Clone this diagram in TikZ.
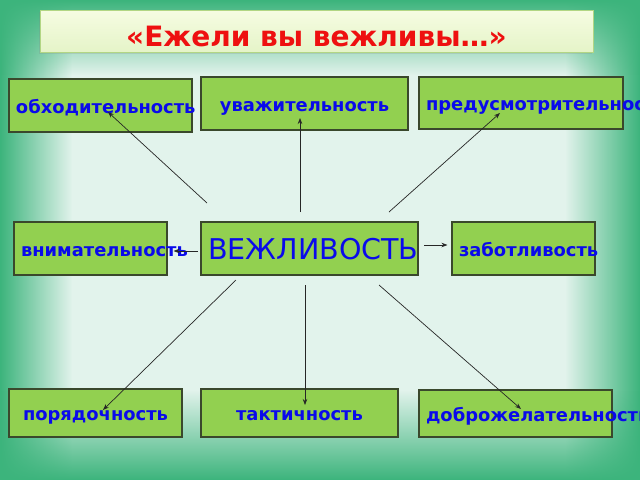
\documentclass[tikz,border=0pt]{standalone}
\usepackage{fontspec}
\setmainfont{DejaVu Sans}
\usetikzlibrary{positioning, fadings, shadows, arrows.meta}
\definecolor{edgegreen}{RGB}{60,180,124}
\definecolor{mint}{RGB}{226,243,236}
\definecolor{boxgreen}{RGB}{146,208,80}
\definecolor{boxedge}{RGB}{58,72,44}
\definecolor{wordblue}{RGB}{10,10,235}
\definecolor{titletop}{RGB}{246,252,226}
\definecolor{titlebottom}{RGB}{229,244,200}
\definecolor{titleedge}{RGB}{178,214,132}
\definecolor{titlered}{RGB}{238,16,16}
\tikzfading[name=glowleft, left color=transparent!0, middle color=transparent!55, right color=transparent!100]
\tikzfading[name=glowright, left color=transparent!100, middle color=transparent!55, right color=transparent!0]
\tikzfading[name=glowtop, top color=transparent!0, middle color=transparent!55, bottom color=transparent!100]
\tikzfading[name=glowbottom, top color=transparent!100, middle color=transparent!40, bottom color=transparent!0]
\newcommand{\wordfont}{\fontsize{17.9}{20}\selectfont\bfseries}
\newcommand{\titlefont}{\fontsize{28}{32}\selectfont\bfseries}

\begin{document}
\begin{tikzpicture}[x=1pt, y=-1pt, >={Stealth[length=6pt,width=4.5pt]},
    box/.style={draw=boxedge, fill=boxgreen, line width=1.1pt, inner sep=0pt,
      inner xsep=7pt, minimum height=53pt, text width=#1, align=left,
      text height=15pt, text depth=0pt, text=wordblue, font=\wordfont},
    titlebox/.style={draw=titleedge, line width=1pt, top color=titletop,
      bottom color=titlebottom, text=titlered, font=\titlefont, inner sep=0pt,
      text height=30pt, text depth=0pt,
      drop shadow={shadow xshift=-1pt, shadow yshift=-2pt, opacity=0.2}},
    link/.style={->, line width=0.7pt, black!85}]
  % Background
  \useasboundingbox (0,0) rectangle (640,480);
  \fill[mint] (0,0) rectangle (640,480);
  \fill[edgegreen, path fading=glowleft] (0,0) rectangle (72,480);
  \fill[edgegreen, path fading=glowright] (565,0) rectangle (640,480);
  \fill[edgegreen, path fading=glowtop] (0,0) rectangle (640,75);
  \fill[edgegreen, path fading=glowbottom] (0,390) rectangle (640,480);
  % Title
  \node[titlebox, minimum width=553pt, minimum height=42pt] (title) at (316.5,31) {«Ежели вы вежливы…»};
  % Top row
  \node[box=169pt] (obh) at (100.5,105.5) {обходительность};
  \node[box=193pt, align=center] (uvazh) at (304.5,103.5) {уважительность};
  \node[box=190pt, minimum height=52pt] (pred) at (521,103) {предусмотрительность};
  % Middle row
  \node[box=139pt] (vnim) at (90.5,248.5) {внимательность};
  \node[box=203pt, font=\fontsize{28.6}{32}\selectfont, text height=21pt] (vezh) at (309.5,248.5) {ВЕЖЛИВОСТЬ};
  \node[box=129pt] (zab) at (523.5,248.5) {заботливость};
  % Bottom row
  \node[box=159pt, align=center, minimum height=48pt] (por) at (95.5,413) {порядочность};
  \node[box=183pt, align=center, minimum height=48pt] (takt) at (299.5,413) {тактичность};
  \node[box=179pt, minimum height=47pt] (dobr) at (515.5,413.5) {доброжелательность};
  % Arrow starts
  \coordinate (up-l) at (207,203);
  \coordinate (up-c) at (300,212);
  \coordinate (up-r) at (389,212);
  \coordinate (mid-l) at (198,251);
  \coordinate (mid-r) at (424,245);
  \coordinate (down-l) at (236,280);
  \coordinate (down-c) at (305,285);
  \coordinate (down-r) at (379,285);
  % Arrows
  \draw[link] (up-l) -- ([shift={(7.5,6.5)}]obh.center);
  \draw[link] (up-c) -- ([shift={(-4.5,14.5)}]uvazh.center);
  \draw[link] (up-r) -- ([shift={(-21,10)}]pred.center);
  \draw[link] (mid-l) -- ([shift={(6,2.5)}]vnim.east);
  \draw[link] (mid-r) -- ([shift={(-4,-3.5)}]zab.west);
  \draw[link] (down-l) -- ([shift={(7.5,-3)}]por.center);
  \draw[link] (down-c) -- ([shift={(5.5,-8)}]takt.center);
  \draw[link] (down-r) -- ([shift={(5.5,-4.5)}]dobr.center);
\end{tikzpicture}
\end{document}
